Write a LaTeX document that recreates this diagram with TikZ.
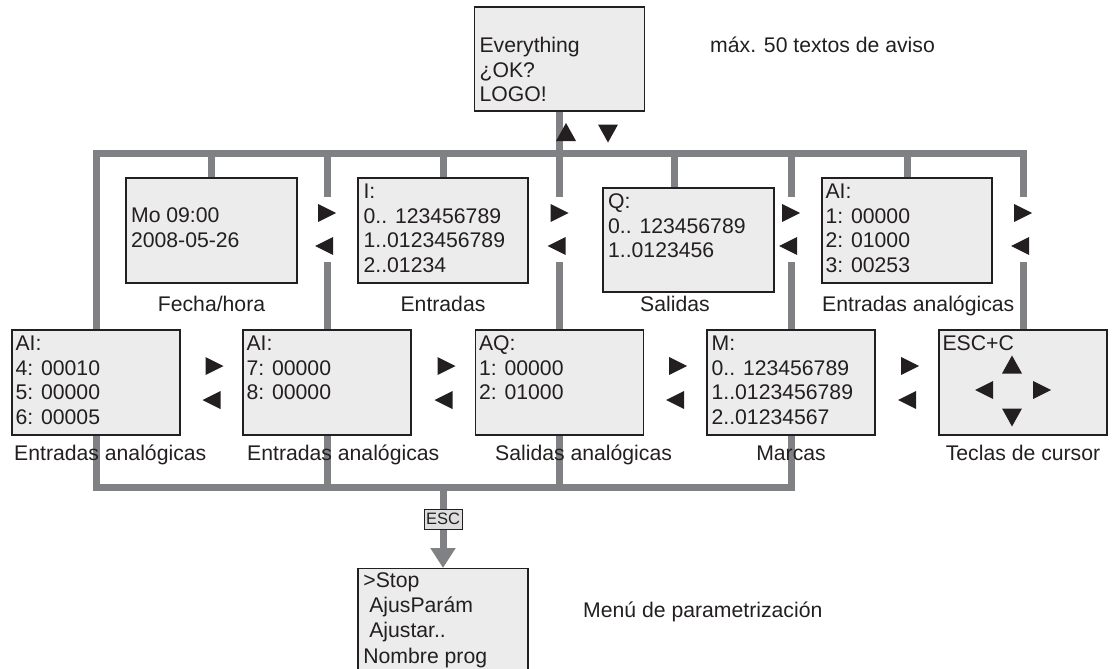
\documentclass[tikz,border=0pt]{standalone}
\usepackage{fontspec}
\setmainfont{Liberation Sans}
\usetikzlibrary{arrows.meta,backgrounds}
\definecolor{busgray}{RGB}{128,129,132}
\definecolor{boxfill}{RGB}{236,236,237}
\definecolor{escfill}{RGB}{222,222,223}
\definecolor{ink}{RGB}{35,31,32}
\newcommand{\ArrR}[2]{\fill[tri] (#1,#2) +(-9,-9) -- +(9,0) -- +(-9,9) -- cycle;}
\newcommand{\ArrL}[2]{\fill[tri] (#1,#2) +(9,-9) -- +(-9,0) -- +(9,9) -- cycle;}
\newcommand{\ArrU}[2]{\fill[tri] (#1,#2) +(-10,9) -- +(0,-9) -- +(10,9) -- cycle;}
\newcommand{\ArrD}[2]{\fill[tri] (#1,#2) +(-10,-9) -- +(0,9) -- +(10,-9) -- cycle;}
\begin{document}
\begin{tikzpicture}[x=1pt,y=-1pt,
  bus/.style={draw=busgray, line width=7pt, line join=miter},
  box/.style={draw=ink, fill=boxfill, line width=1.2pt, inner sep=0pt, rectangle},
  txt/.style={anchor=north west, inner sep=0pt, align=left, text=ink, font=\fontsize{21.2}{24.6}\selectfont},
  lbl/.style={anchor=base, inner sep=0pt, text=ink, font=\fontsize{21.2}{24.6}\selectfont},
  esclbl/.style={draw=ink, fill=escfill, line width=1pt, inner sep=0pt, minimum width=38pt, minimum height=20pt, text=ink, font=\fontsize{16.5}{18}\selectfont},
  tri/.style={fill=ink}]
\useasboundingbox (0,0) rectangle (1120,669);
\clip (0,0) rectangle (1120,669);
\coordinate (tb) at (0,153);
\coordinate (bb) at (0,487);
\coordinate (gt) at (0,197);
\coordinate (gb) at (0,262);

% boxes
\node[box, minimum width=170pt, minimum height=104pt] (top) at (559.5,59) {};
\node[box, minimum width=171pt, minimum height=105pt] (fecha) at (211.5,230.5) {};
\node[box, minimum width=170pt, minimum height=105pt] (inp) at (443,230.5) {};
\node[box, minimum width=171pt, minimum height=104pt] (outp) at (688.5,240) {};
\node[box, minimum width=170pt, minimum height=105pt] (ai1) at (907,230.5) {};
\node[box, minimum width=168pt, minimum height=105pt] (ai4) at (96,382.5) {};
\node[box, minimum width=168pt, minimum height=105pt] (ai7) at (327,382.5) {};
\node[box, minimum width=168pt, minimum height=105pt] (aq) at (559.5,382.5) {};
\node[box, minimum width=168pt, minimum height=105pt] (m) at (791,382.5) {};
\node[box, minimum width=168pt, minimum height=105pt] (cur) at (1023,382.5) {};
\node[box, minimum width=170pt, minimum height=120pt, anchor=north] (menu) at (443,568) {};
\coordinate (qs) at ([xshift=72pt]outp.north west);

% connectors
\begin{pgfonlayer}{background}
\draw[bus] (ai4.north) -- (ai4.north |- tb) -- (cur.north |- tb) -- (cur.north |- gt);
\draw[bus] (cur.north |- gb) -- (cur.north);
\draw[bus] (top.south) -- (top.south |- gt);
\draw[bus] (aq.north |- gb) -- (aq.north);
\foreach \n in {ai7, m} {
  \draw[bus] (\n.north |- tb) -- (\n.north |- gt);
  \draw[bus] (\n.north |- gb) -- (\n.north);
}
\foreach \n in {fecha, inp, ai1} {
  \draw[bus] (\n.north) -- (\n.north |- tb);
}
\draw[bus] (qs) -- (qs |- tb);
\draw[bus] (ai4.south) -- (ai4.south |- bb) -- (m.south |- bb) -- (m.south);
\draw[bus] (ai7.south) -- (ai7.south |- bb);
\draw[bus] (aq.south) -- (aq.south |- bb);
\draw[bus, -{Triangle[width=24pt,length=20pt]}] (menu.north |- bb) -- (menu.north);
\end{pgfonlayer}
\node[esclbl] (esck) at (443,519) {ESC};

% box texts
\node[txt] (top-t) at ([shift={(5.5,28.8)}]top.north west) {\strut Everything\\¿OK?\\LOGO!};
\node[txt] (fecha-t) at ([shift={(5.5,27.8)}]fecha.north west) {\strut Mo 09:00\\2008-05-26};
\node[txt] (inp-t) at ([shift={(6,3.8)}]inp.north west) {\strut I:\\0.. 123456789\\1..0123456789\\2..01234};
\node[txt] (outp-t) at ([shift={(5.5,3.8)}]outp.north west) {\strut Q:\\0.. 123456789\\1..0123456};
\node[txt] (ai1-t) at ([shift={(4,3.8)}]ai1.north west) {\strut AI:\\1: 00000\\2: 01000\\3: 00253};
\node[txt] (ai4-t) at ([shift={(4,3.8)}]ai4.north west) {\strut AI:\\4: 00010\\5: 00000\\6: 00005};
\node[txt] (ai7-t) at ([shift={(4,3.8)}]ai7.north west) {\strut AI:\\7: 00000\\8: 00000};
\node[txt] (aq-t) at ([shift={(4,3.8)}]aq.north west) {\strut AQ:\\1: 00000\\2: 01000};
\node[txt] (m-t) at ([shift={(5,3.8)}]m.north west) {\strut M:\\0.. 123456789\\1..0123456789\\2..01234567};
\node[txt] (cur-t) at ([shift={(4,3.8)}]cur.north west) {\strut ESC+C};
\node[txt, font=\fontsize{21.2}{25.3}\selectfont] (menu-t) at ([shift={(5.8,1.3)}]menu.north west) {\strut >Stop\\~AjusParám\\~Ajustar..\\Nombre prog};

% labels
\node[lbl] (l-fecha) at (211.5,311) {Fecha/hora};
\node[lbl] (l-inp) at (443,311) {Entradas};
\node[lbl] (l-outp) at (675,311) {Salidas};
\node[lbl, anchor=base west] (l-ai1) at (822,311) {Entradas analógicas};
\node[lbl, anchor=base west] (l-ai4) at (14,460) {Entradas analógicas};
\node[lbl, anchor=base west] (l-ai7) at (247,460) {Entradas analógicas};
\node[lbl, anchor=base west] (l-aq) at (495,460) {Salidas analógicas};
\node[lbl] (l-m) at (791,460) {Marcas};
\node[lbl] (l-cur) at (1023,460) {Teclas de cursor};
\node[lbl, anchor=base west] (l-max) at (710,53) {máx. 50 textos de aviso};
\node[lbl, anchor=base west] (l-menu) at (583,617) {Menú de parametrización};

% navigation triangles
\foreach \L in {327,559.5,791,1023} {\ArrR{\L}{213} \ArrL{\L-3}{246}}
\foreach \g in {211.5,443.5,675,907} {\ArrR{\g+3}{366} \ArrL{\g}{400}}
\ArrU{566}{132}
\ArrD{608}{133.5}
\ArrU{1012}{364.5}
\ArrL{984}{390}
\ArrR{1042}{390}
\ArrD{1012}{417.5}
\end{tikzpicture}
\end{document}
